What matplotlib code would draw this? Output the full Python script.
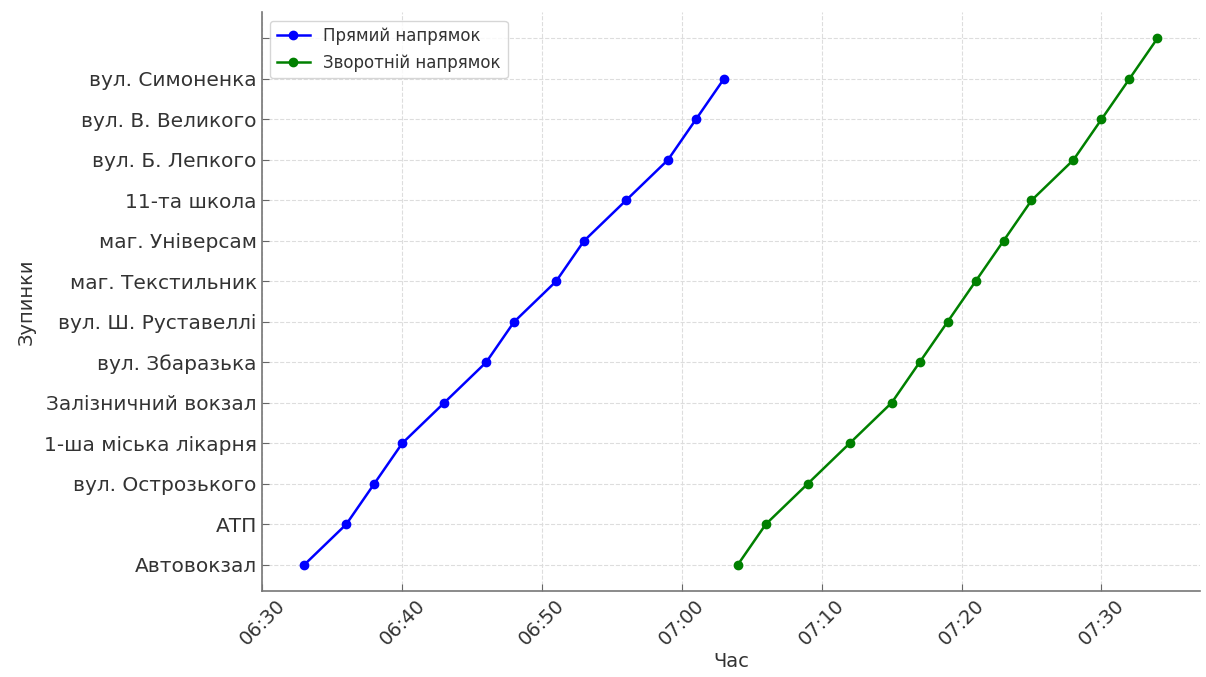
import matplotlib
matplotlib.use("Agg")
import matplotlib.pyplot as plt
import matplotlib.dates as mdates
from datetime import datetime

stops = ["Автовокзал", "АТП", "вул. Острозького", "1-ша міська лікарня",
         "Залізничний вокзал", "вул. Збаразька", "вул. Ш. Руставеллі",
         "маг. Текстильник", "маг. Універсам", "11-та школа",
         "вул. Б. Лепкого", "вул. В. Великого", "вул. Симоненка", ""]

forward_times = ["06:33", "06:36", "06:38", "06:40", "06:43", "06:46", "06:48",
                 "06:51", "06:53", "06:56", "06:59", "07:01", "07:03"]
backward_times = ["07:04", "07:06", "07:09", "07:12", "07:15", "07:17", "07:19",
                  "07:21", "07:23", "07:25", "07:28", "07:30", "07:32", "07:34"]

def to_dt(s):
    return datetime.strptime("2024-01-01 " + s, "%Y-%m-%d %H:%M")

fwd = [to_dt(t) for t in forward_times]
bwd = [to_dt(t) for t in backward_times]

plt.rcParams['font.family'] = ['DejaVu Sans']
fig = plt.figure(figsize=(12.06, 6.77), dpi=100)
ax = fig.add_axes([0.217, 0.127, 0.778, 0.855])

ax.plot(fwd, list(range(len(fwd))), color="blue", marker="o", markersize=6,
        linewidth=1.8, label="Прямий напрямок")
ax.plot(bwd, list(range(len(bwd))), color="green", marker="o", markersize=6,
        linewidth=1.8, label="Зворотній напрямок")

ax.set_yticks(range(len(stops)))
ax.set_yticklabels(stops)
ax.xaxis.set_major_locator(mdates.MinuteLocator(byminute=[0, 10, 20, 30, 40, 50]))
ax.xaxis.set_major_formatter(mdates.DateFormatter("%H:%M"))
plt.setp(ax.get_xticklabels(), rotation=45, ha="center", rotation_mode="default")

ax.tick_params(axis="y", labelsize=14.5)
ax.tick_params(axis="x", labelsize=14)
ax.tick_params(axis="both", direction="in", colors="#666666", labelcolor="#333333",
               length=5)
ax.grid(True, linestyle="--", color="#dddddd", linewidth=0.8)
for s in ["top", "right"]:
    ax.spines[s].set_visible(False)
for s in ["left", "bottom"]:
    ax.spines[s].set_color("#777777")
    ax.spines[s].set_linewidth(1.2)

ax.set_xlabel("Час", fontsize=14, color="#333333", labelpad=2)
ax.set_ylabel("Зупинки", fontsize=14, color="#333333", labelpad=6)

leg = ax.legend(loc="upper left", fontsize=12, frameon=True)
leg.get_frame().set_edgecolor("#cccccc")
for t in leg.get_texts():
    t.set_color("#333333")

fig.savefig("out.png", dpi=100)
